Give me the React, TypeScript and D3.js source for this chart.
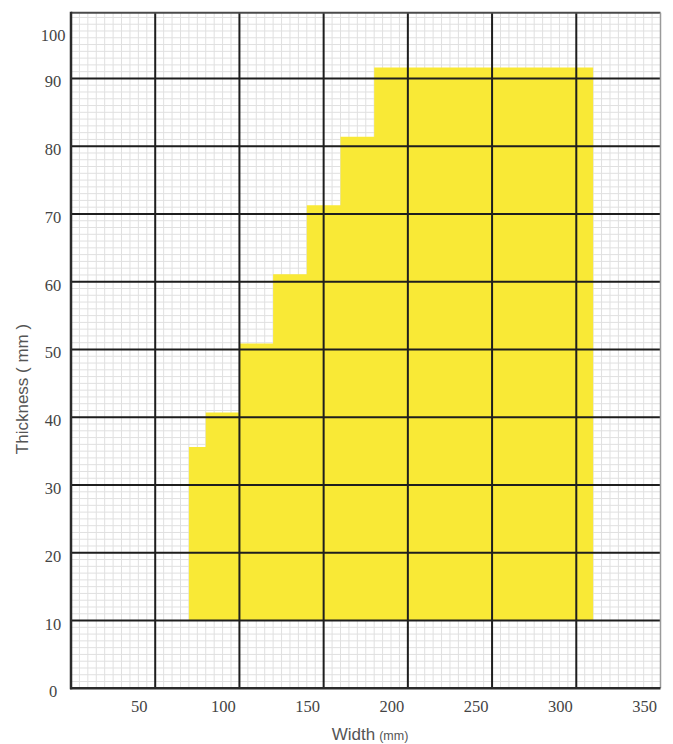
import React from "react";
import * as d3 from "d3";

// Step outline of the yellow region: width (mm) where each step starts, thickness (mm) of that step
const stepWidths = [70, 80, 100, 120, 140, 160, 180, 310];
const stepThickness = [35.6, 40.7, 50.9, 61.1, 71.3, 81.4, 91.6, 91.6];
const baseThickness = 10;

const xTickValues = [50, 100, 150, 200, 250, 300, 350];
const yTickValues = [0, 10, 20, 30, 40, 50, 60, 70, 80, 90, 100];
const xMinorValues = d3.range(5, 350, 5);
const yMinorValues = d3.range(1, 100, 1);
const xMajorValues = [50, 100, 150, 200, 250, 300];
const yMajorValues = [10, 20, 30, 40, 50, 60, 70, 80, 90];

const W = 673;
const H = 744;
const left = 71;
const right = 660.5;
const top = 12.7;
const bottom = 688.3;

export default function App() {
  const x = d3.scaleLinear().domain([0, 350]).range([left, right]);
  const y = d3.scaleLinear().domain([0, 99.7]).range([bottom, top]);

  const pts = stepWidths.map((w, i) => [w, stepThickness[i]] as [number, number]);
  const area = d3
    .area<[number, number]>()
    .x((d) => x(d[0]))
    .y0(() => y(baseThickness))
    .y1((d) => y(d[1]))
    .curve(d3.curveStepAfter);

  const labelY = (v: number) => (v === 100 ? y(96.8) : y(v)) + 3.5;

  return (
    <svg
      width={W}
      height={H}
      style={{ position: "absolute", left: 0, top: 0, background: "#fff" }}
    >
      {/* minor grid */}
      <g stroke="#e0e0e0" strokeWidth={1}>
        {xMinorValues.map((v) => (
          <line key={"xm" + v} x1={x(v)} x2={x(v)} y1={top} y2={bottom} />
        ))}
        {yMinorValues.map((v) => (
          <line key={"ym" + v} x1={left} x2={right} y1={y(v)} y2={y(v)} />
        ))}
      </g>
      {/* yellow region */}
      <path d={area(pts) || ""} fill="#f9e936" />
      {/* major grid */}
      <g stroke="#1e1e1e" strokeWidth={2}>
        {xMajorValues.map((v) => (
          <line key={"xM" + v} x1={x(v)} x2={x(v)} y1={top} y2={bottom} />
        ))}
        {yMajorValues.map((v) => (
          <line key={"yM" + v} x1={left} x2={right} y1={y(v)} y2={y(v)} />
        ))}
      </g>
      {/* frame */}
      <line x1={left} x2={right} y1={top} y2={top} stroke="#4a4a4a" strokeWidth={2} />
      <line x1={right} x2={right} y1={top} y2={bottom} stroke="#9a9a9a" strokeWidth={1.5} />
      <line x1={left} x2={left} y1={top - 1} y2={bottom + 1} stroke="#2a2a2a" strokeWidth={2.5} />
      <line x1={left - 1} x2={right} y1={bottom} y2={bottom} stroke="#2a2a2a" strokeWidth={2.5} />

      {/* y tick labels */}
      <g fontFamily="'Liberation Serif', serif" fontSize={16.5} fill="#444" textAnchor="middle">
        {yTickValues.map((v) => (
          <text key={"yl" + v} x={53} y={labelY(v)} dominantBaseline="central">
            {v}
          </text>
        ))}
      </g>
      {/* x tick labels */}
      <g fontFamily="'Liberation Serif', serif" fontSize={16.5} fill="#444" textAnchor="middle">
        {xTickValues.map((v) => (
          <text key={"xl" + v} x={x(v) - 16} y={706} dominantBaseline="central">
            {v}
          </text>
        ))}
      </g>

      {/* axis titles */}
      <text
        x={370}
        y={740}
        textAnchor="middle"
        fontFamily="'Liberation Sans', Arial, sans-serif"
        fontSize={17}
        fill="#555"
      >
        Width
        <tspan fontSize={12.5} dx={4}>(mm)</tspan>
      </text>
      <text
        transform={`translate(28, 389) rotate(-90)`}
        textAnchor="middle"
        fontFamily="'Liberation Sans', Arial, sans-serif"
        fontSize={17}
        fill="#555"
      >
        Thickness ( mm )
      </text>
    </svg>
  );
}
